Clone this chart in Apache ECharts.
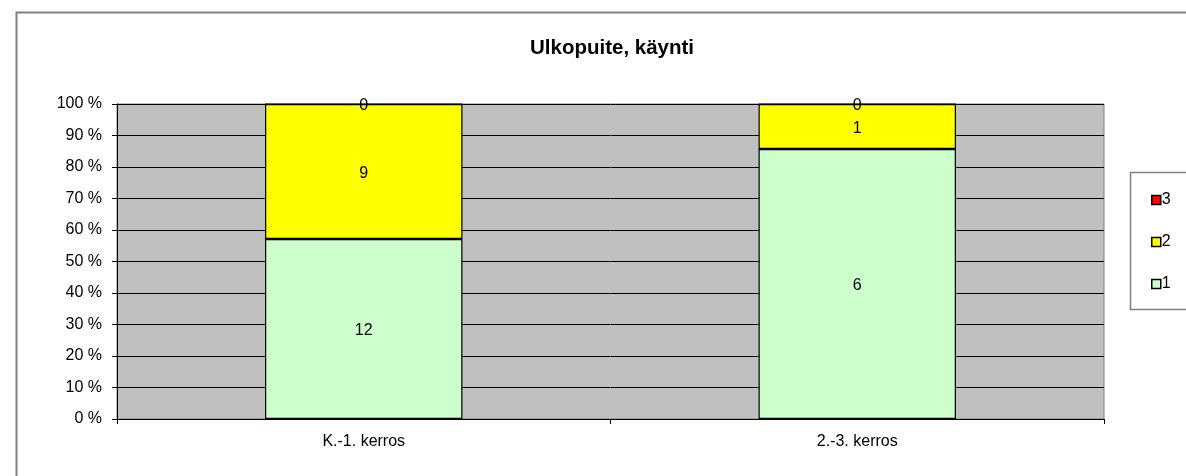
<!DOCTYPE html>
<html>
<head>
<meta charset="utf-8">
<script src="https://cdn.jsdelivr.net/npm/echarts@6/dist/echarts.min.js"></script>
<style>
  html, body { margin: 0; padding: 0; background: #fff; }
  #chart { width: 1186px; height: 476px; }
</style>
</head>
<body>
<div id="chart"></div>
<script>
// raw counts per floor group
const categories = ['K.-1. kerros', '2.-3. kerros']
const seriesNames = ['1', '2', '3']
const values1 = [12, 6]
const values2 = [9, 1]
const values3 = [0, 0]
const seriesColors = ['#CCFFCC', '#FFFF00', '#FF0000']

const raw = [values1, values2, values3]
const totals = categories.map((c, i) => raw.reduce((s, arr) => s + arr[i], 0))

const font = 'Liberation Sans, Arial, sans-serif'
const chart = echarts.init(document.getElementById('chart'))

chart.setOption({
  animation: false,
  textStyle: { fontFamily: font },
  title: {
    text: 'Ulkopuite, käynti',
    left: 525,
    top: 33,
    textStyle: { fontSize: 20.5, fontWeight: 'bold', color: '#000', fontFamily: font }
  },
  graphic: [{
    type: 'rect',
    shape: { x: 16.5, y: 12.5, width: 1300, height: 600 },
    style: { fill: 'none', stroke: '#808080', lineWidth: 2 },
    z: -1
  }, {
    type: 'rect',
    shape: { x: 1130.5, y: 172.5, width: 200, height: 137 },
    style: { fill: '#fff', stroke: '#808080', lineWidth: 1.5 },
    z: -1
  }],
  legend: {
    data: ['3', '2', '1'],
    orient: 'vertical',
    left: 1146,
    top: 187,
    itemGap: 26,
    itemWidth: 9,
    itemHeight: 9,
    icon: 'rect',
    itemStyle: { borderColor: '#000', borderWidth: 1.5 },
    textStyle: { fontSize: 16, color: '#000', fontFamily: font, padding: [0, 0, 0, -4] }
  },
  grid: {
    left: 117,
    right: 82,
    top: 104,
    bottom: 57,
    show: true,
    backgroundColor: '#C0C0C0',
    borderColor: '#808080',
    borderWidth: 1
  },
  xAxis: {
    type: 'category',
    data: categories,
    axisLine: { lineStyle: { color: '#000', width: 1 } },
    axisTick: { show: true, length: 5, lineStyle: { color: '#000' } },
    axisLabel: { fontSize: 16, color: '#000', margin: 15, fontFamily: font }
  },
  yAxis: {
    type: 'value',
    min: 0,
    max: 100,
    interval: 10,
    axisLine: { show: true, lineStyle: { color: '#000', width: 1 } },
    axisTick: { show: true, length: 5, lineStyle: { color: '#000' } },
    axisLabel: { fontSize: 16, color: '#000', margin: 15, formatter: '{value} %', fontFamily: font, padding: [4, 0, 0, 0] },
    splitLine: { show: true, lineStyle: { color: '#000', width: 1 } }
  },
  series: seriesNames.map((name, k) => ({
    name: name,
    type: 'bar',
    stack: 'share',
    barWidth: '40%',
    data: raw[k].map((v, i) => ({ value: v / totals[i] * 100, raw: v })),
    itemStyle: { color: seriesColors[k], borderColor: '#000', borderWidth: 1.2 },
    label: {
      show: true,
      position: 'inside',
      offset: [0, 2],
      color: '#000',
      fontSize: 16,
      fontFamily: font,
      formatter: p => String(p.data.raw)
    }
  }))
})
</script>
</body>
</html>
